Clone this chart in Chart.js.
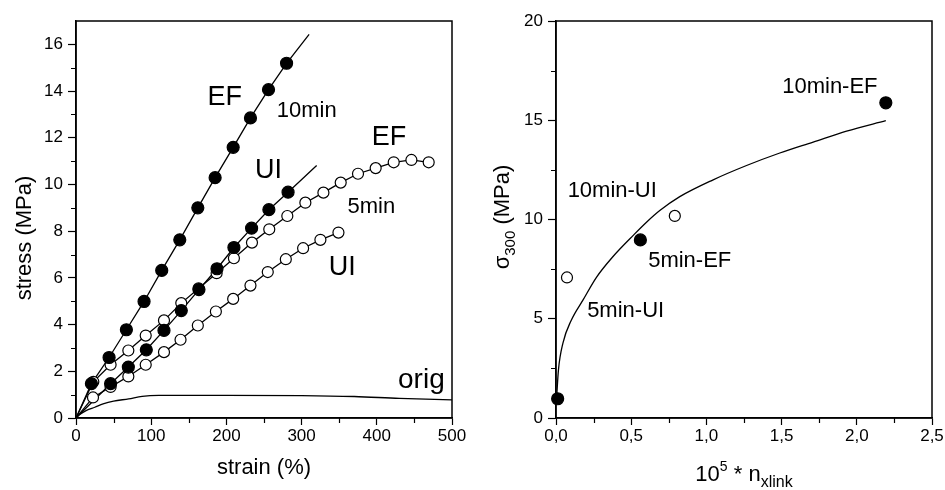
<!DOCTYPE html>
<html lang="en">
<head>
<meta charset="UTF-8">
<title>Stress-strain curves and sigma300</title>
<script src="https://cdn.jsdelivr.net/npm/chart.js"></script>
<style>
  html, body { margin: 0; padding: 0; background: #fff; }
  .wrap { position: relative; width: 945px; height: 490px; }
  #left { position: absolute; left: 0; top: 0; }
  #right { position: absolute; left: 470px; top: 0; }
</style>
</head>
<body>
<div class="wrap">
  <canvas id="left" width="470" height="490"></canvas>
  <canvas id="right" width="475" height="490"></canvas>
</div>
<script>
// ---- left panel: stress (MPa) vs strain (%) ----
const strainEF10 = [20.5, 44, 67, 90.5, 114, 138, 162, 185, 209, 232, 256, 280];
const stressEF10 = [1.47, 2.59, 3.78, 4.99, 6.32, 7.63, 9.0, 10.29, 11.59, 12.85, 14.06, 15.19];
const endEF10 = [310, 16.43];

const strainUI10 = [46, 69.6, 93.5, 117, 140, 163.5, 187.5, 210, 233.5, 256.5, 282];
const stressUI10 = [1.47, 2.18, 2.92, 3.75, 4.6, 5.5, 6.39, 7.3, 8.13, 8.92, 9.67];
const endUI10 = [320, 10.81];

const strainEF5 = [23, 46, 69.6, 92.7, 117, 140, 163, 187, 210, 234, 257, 281, 305, 329, 352, 375, 398.5, 422.5, 446, 469];
const stressEF5 = [1.55, 2.28, 2.89, 3.53, 4.18, 4.92, 5.55, 6.2, 6.84, 7.51, 8.08, 8.65, 9.22, 9.65, 10.08, 10.46, 10.7, 10.95, 11.05, 10.95];

const strainUI5 = [22.6, 46, 69.6, 92.7, 117, 139, 162, 186, 209, 232, 255, 279, 302, 325, 349];
const stressUI5 = [0.88, 1.33, 1.78, 2.28, 2.82, 3.35, 3.96, 4.56, 5.10, 5.67, 6.25, 6.8, 7.27, 7.63, 7.94];

const strainOrig = [0, 5, 14, 25, 36, 50, 70, 88, 110, 200, 300, 370, 430, 500];
const stressOrig = [0, 0.15, 0.33, 0.46, 0.6, 0.72, 0.82, 0.93, 0.97, 0.97, 0.96, 0.92, 0.84, 0.78];

// ---- right panel: sigma300 vs 10^5 * n_xlink ----
const nFilled = [0.011, 0.561, 2.193];
const sFilled = [0.97, 8.97, 15.88];
const nOpen = [0.073, 0.79];
const sOpen = [7.08, 10.18];
const nFit = [0.004, 0.016, 0.047, 0.1, 0.18, 0.27, 0.375, 0.52, 0.6, 0.69, 0.823, 1.045, 1.267, 1.488, 1.71, 1.932, 2.193];
const sFit = [1.0, 2.4, 3.8, 4.9, 5.95, 7.1, 8.1, 9.25, 9.85, 10.45, 11.15, 12.0, 12.72, 13.35, 13.9, 14.45, 14.98];

const FONT = "'Liberation Sans', Arial, sans-serif";
Chart.defaults.font.family = FONT;
Chart.defaults.color = '#000';

const pts = (xs, ys) => xs.map((x, i) => ({ x: x, y: ys[i] }));
const origin = { x: 0, y: 0 };

function lineSet(data, curved) {
  return {
    data: data, showLine: true, borderColor: '#000', borderWidth: 1.3,
    pointRadius: 0, order: 3, tension: curved ? 0.4 : 0,
    cubicInterpolationMode: curved ? 'monotone' : 'default'
  };
}
function markSet(data, filled, r) {
  return {
    data: data, showLine: false, pointRadius: r, pointHoverRadius: r,
    pointBackgroundColor: filled ? '#000' : '#fff', pointBorderColor: '#000',
    pointBorderWidth: 1.2, order: filled ? 1 : 2, clip: false
  };
}

// draws several text runs (for sub/superscripts) centred on x
function drawRuns(ctx, runs, x, y) {
  let total = 0;
  runs.forEach(r => { ctx.font = r.size + 'px ' + FONT; total += ctx.measureText(r.t).width; });
  let cx = x - total / 2;
  ctx.textAlign = 'left';
  runs.forEach(r => {
    ctx.font = r.size + 'px ' + FONT;
    ctx.fillText(r.t, cx, y + (r.dy || 0));
    cx += ctx.measureText(r.t).width;
  });
}

function makeDecor(cfg) {
  return {
    id: 'decor',
    afterDraw(chart) {
      const ctx = chart.ctx, a = chart.chartArea;
      const x = chart.scales.x, y = chart.scales.y;
      ctx.save();
      ctx.strokeStyle = '#000';
      ctx.lineWidth = 1.5;
      ctx.strokeRect(a.left, a.top, a.right - a.left, a.bottom - a.top);
      // minor ticks
      ctx.lineWidth = 1.2;
      ctx.beginPath();
      cfg.xMinor.forEach(v => {
        const p = Math.round(x.getPixelForValue(v)) + 0.5;
        ctx.moveTo(p, a.bottom); ctx.lineTo(p, a.bottom + 5);
      });
      cfg.yMinor.forEach(v => {
        const p = Math.round(y.getPixelForValue(v)) + 0.5;
        ctx.moveTo(a.left, p); ctx.lineTo(a.left - 5, p);
      });
      ctx.stroke();
      // labels inside the plot
      ctx.fillStyle = '#000';
      ctx.textBaseline = 'alphabetic';
      cfg.notes.forEach(n => {
        ctx.textAlign = 'center';
        ctx.font = n.size + 'px ' + FONT;
        ctx.fillText(n.text, x.getPixelForValue(n.x), y.getPixelForValue(n.y));
      });
      cfg.titles(ctx, a);
      ctx.restore();
    }
  };
}

function axes(xOpt, yOpt, yWidth) {
  const common = {
    type: 'linear',
    grid: { display: true, drawOnChartArea: false, tickColor: '#000', tickWidth: 1.2 },
    border: { display: true, color: '#000', width: 1.5 }
  };
  return {
    x: Object.assign({}, common, {
      min: xOpt.min, max: xOpt.max,
      grid: Object.assign({}, common.grid, { tickLength: 7 }),
      ticks: { stepSize: xOpt.step, includeBounds: false, autoSkip: false, maxRotation: 0,
               padding: 1, font: { size: 17 }, color: '#000', callback: xOpt.fmt },
      afterFit: s => { s.height = 72; }
    }),
    y: Object.assign({}, common, {
      min: yOpt.min, max: yOpt.max,
      grid: Object.assign({}, common.grid, { tickLength: 8 }),
      ticks: { stepSize: yOpt.step, includeBounds: false, autoSkip: false,
               padding: 5, font: { size: 17 }, color: '#000' },
      afterFit: s => { s.width = yWidth; }
    })
  };
}

const baseOpts = {
  responsive: false, animation: false,
  plugins: { legend: { display: false }, tooltip: { enabled: false } }
};

// left chart
new Chart(document.getElementById('left'), {
  type: 'scatter',
  data: {
    datasets: [
      markSet(pts(strainEF10, stressEF10), true, 6),
      markSet(pts(strainUI10, stressUI10), true, 6),
      markSet(pts(strainEF5, stressEF5), false, 5.5),
      markSet(pts(strainUI5, stressUI5), false, 5.5),
      lineSet([origin].concat(pts(strainEF10, stressEF10), [{ x: endEF10[0], y: endEF10[1] }])),
      lineSet([origin].concat(pts(strainUI10, stressUI10), [{ x: endUI10[0], y: endUI10[1] }])),
      lineSet([origin].concat(pts(strainEF5, stressEF5))),
      lineSet([origin].concat(pts(strainUI5, stressUI5))),
      lineSet(pts(strainOrig, stressOrig), true)
    ]
  },
  options: Object.assign({}, baseOpts, {
    layout: { padding: { top: 21, right: 18, left: 0, bottom: 0 } },
    scales: axes({ min: 0, max: 500, step: 100 }, { min: 0, max: 17, step: 2 }, 76)
  }),
  plugins: [makeDecor({
    xMinor: [50, 150, 250, 350, 450],
    yMinor: [1, 3, 5, 7, 9, 11, 13, 15],
    notes: [
      { text: 'EF', x: 197.7, y: 13.4, size: 27 },
      { text: '10min', x: 306.8, y: 12.89, size: 22 },
      { text: 'EF', x: 416.2, y: 11.69, size: 27 },
      { text: 'UI', x: 256, y: 10.27, size: 27 },
      { text: '5min', x: 392.8, y: 8.77, size: 22 },
      { text: 'UI', x: 354, y: 6.13, size: 27 },
      { text: 'orig', x: 459.3, y: 1.3, size: 28 }
    ],
    titles: (ctx, a) => {
      ctx.textAlign = 'center';
      ctx.font = '22px ' + FONT;
      ctx.fillText('strain (%)', (a.left + a.right) / 2, 474);
      ctx.save();
      ctx.translate(31, 238);
      ctx.rotate(-Math.PI / 2);
      ctx.fillText('stress (MPa)', 0, 0);
      ctx.restore();
    }
  })]
});

// right chart
new Chart(document.getElementById('right'), {
  type: 'scatter',
  data: {
    datasets: [
      markSet(pts(nFilled, sFilled), true, 6),
      markSet(pts(nOpen, sOpen), false, 5.5),
      lineSet(pts(nFit, sFit), true)
    ]
  },
  options: Object.assign({}, baseOpts, {
    layout: { padding: { top: 21, right: 13, left: 0, bottom: 0 } },
    scales: axes({ min: 0, max: 2.5, step: 0.5, fmt: v => v.toFixed(1).replace('.', ',') },
                 { min: 0, max: 20, step: 5 }, 86)
  }),
  plugins: [makeDecor({
    xMinor: [0.25, 0.75, 1.25, 1.75, 2.25],
    yMinor: [2.5, 7.5, 12.5, 17.5],
    notes: [
      { text: '10min-EF', x: 1.821, y: 16.36, size: 22 },
      { text: '10min-UI', x: 0.374, y: 11.15, size: 22 },
      { text: '5min-EF', x: 0.889, y: 7.63, size: 22 },
      { text: '5min-UI', x: 0.463, y: 5.08, size: 22 }
    ],
    titles: (ctx, a) => {
      drawRuns(ctx, [
        { t: '10', size: 22 },
        { t: '5', size: 14, dy: -10 },
        { t: ' * n', size: 22 },
        { t: 'xlink', size: 16, dy: 6 }
      ], (a.left + a.right) / 2, 481);
      ctx.save();
      ctx.translate(39, 217);
      ctx.rotate(-Math.PI / 2);
      drawRuns(ctx, [
        { t: 'σ', size: 22 },
        { t: '300', size: 15, dy: 6 },
        { t: ' (MPa)', size: 22 }
      ], 0, 0);
      ctx.restore();
    }
  })]
});
</script>
</body>
</html>
